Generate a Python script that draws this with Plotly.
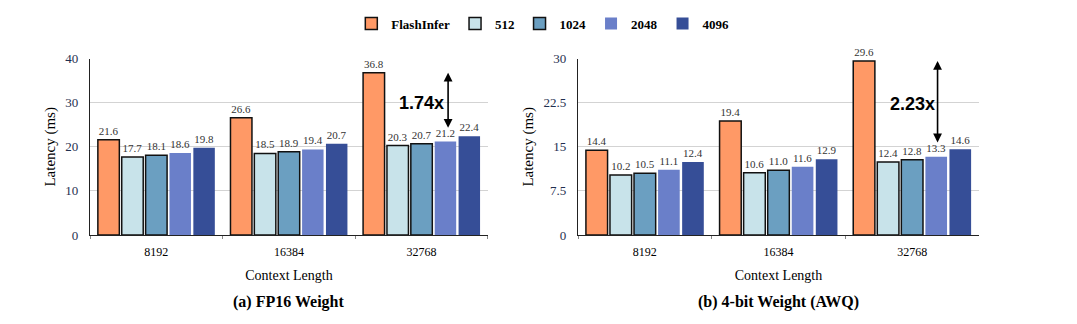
import plotly.graph_objects as go

contexts = ["8192", "16384", "32768"]
series_names = ["FlashInfer", "512", "1024", "2048", "4096"]
fp16_values = {
    "FlashInfer": [21.6, 26.6, 36.8],
    "512": [17.7, 18.5, 20.3],
    "1024": [18.1, 18.9, 20.7],
    "2048": [18.6, 19.4, 21.2],
    "4096": [19.8, 20.7, 22.4],
}
awq_values = {
    "FlashInfer": [14.4, 19.4, 29.6],
    "512": [10.2, 10.6, 12.4],
    "1024": [10.5, 11.0, 12.8],
    "2048": [11.1, 11.6, 13.3],
    "4096": [12.4, 12.9, 14.6],
}
speedup_labels = ["1.74x", "2.23x"]
colors = {"FlashInfer": "#FF9966", "512": "#C8E3EA", "1024": "#6B9FC1",
          "2048": "#6A7FC9", "4096": "#364E97"}
outlined = {"FlashInfer": True, "512": True, "1024": True, "2048": False, "4096": False}

SERIF = "Liberation Serif, Times New Roman, serif"
SANS = "Liberation Sans, Arial, sans-serif"

fig = go.Figure()
for panel, data in (("1", fp16_values), ("2", awq_values)):
    for name in series_names:
        fig.add_trace(go.Bar(
            x=contexts, y=data[name], name=name,
            marker=dict(color=colors[name],
                        line=dict(color="#111111" if outlined[name] else colors[name],
                                  width=1.5 if outlined[name] else 0)),
            text=[f"{v:.1f}" for v in data[name]], textposition="outside",
            textfont=dict(family=SERIF, size=11, color="#333333"),
            cliponaxis=False,
            xaxis="x" if panel == "1" else "x2",
            yaxis="y" if panel == "1" else "y2",
            showlegend=(panel == "1"),
        ))

ydom = [0.262, 0.833]


def xaxis_cfg(domain, anchor):
    return dict(domain=domain, anchor=anchor, tickson="boundaries",
                ticks="outside", ticklen=3, tickcolor="#888888",
                showline=True, linecolor="#222222", linewidth=1.2,
                tickfont=dict(family=SERIF, size=12, color="#000000"),
                ticklabelstandoff=5,
                title=dict(text="Context Length", font=dict(family=SERIF, size=14), standoff=12))


def yaxis_cfg(domain, anchor, rng, tickvals):
    return dict(domain=domain, anchor=anchor, range=rng, tickvals=tickvals,
                ticktext=[("%g" % v) for v in tickvals],
                showgrid=True, gridcolor="#D3D3D3", gridwidth=1.2,
                tickfont=dict(family=SERIF, size=13, color="#1F2F4F"),
                ticklabelstandoff=8,
                showline=True, linecolor="#222222", linewidth=1.2,
                title=dict(text="Latency (ms)", font=dict(family=SERIF, size=15), standoff=6))


fig.update_layout(
    width=1077, height=324,
    margin=dict(l=0, r=0, t=0, b=0),
    paper_bgcolor="white", plot_bgcolor="white",
    barmode="group", bargap=0.1, bargroupgap=0.1,
    font=dict(family=SERIF, color="#000000"),
    legend=dict(orientation="h", x=0.504, xanchor="center", y=0.995, yanchor="top",
                font=dict(family=SERIF, size=13, color="#000000", weight="bold"),
                itemwidth=30, traceorder="normal"),
    xaxis=xaxis_cfg([0.0836, 0.453], "y"),
    yaxis=yaxis_cfg(ydom, "x", [0, 40], [0, 10, 20, 30, 40]),
    xaxis2=xaxis_cfg([0.5367, 0.909], "y2"),
    yaxis2=yaxis_cfg(ydom, "x2", [0, 30], [0, 7.5, 15, 22.5, 30]),
)

# speedup arrows and labels
for (xr, yr, data, lbl, label_y, arrow_x, gap) in (
        ("x", "y", fp16_values, speedup_labels[0], 30, 2.2, 2.8),
        ("x2", "y2", awq_values, speedup_labels[1], 22.3, 2.19, 2.2)):
    fig.add_annotation(x=arrow_x, y=data["FlashInfer"][2], ax=arrow_x, ay=data["2048"][2] + gap,
                       xref=xr, yref=yr, axref=xr, ayref=yr, text="", showarrow=True,
                       arrowhead=2, startarrowhead=2, arrowside="end+start", arrowwidth=1.6,
                       arrowsize=1.1, startarrowsize=1.1, arrowcolor="#000000")
    fig.add_annotation(x=2.0, y=label_y, xref=xr, yref=yr, text=f"<b>{lbl}</b>", showarrow=False,
                       font=dict(family=SANS, size=18, color="#000000"))

# subtitles
for xc, txt in ((0.268, "(a) FP16 Weight"), (0.7228, "(b) 4-bit Weight (AWQ)")):
    fig.add_annotation(x=xc, y=(324 - 309) / 324, xref="paper", yref="paper", text=f"<b>{txt}</b>",
                       xanchor="center", yanchor="middle",
                       showarrow=False, font=dict(family=SERIF, size=16))

fig.write_html("out.html")
